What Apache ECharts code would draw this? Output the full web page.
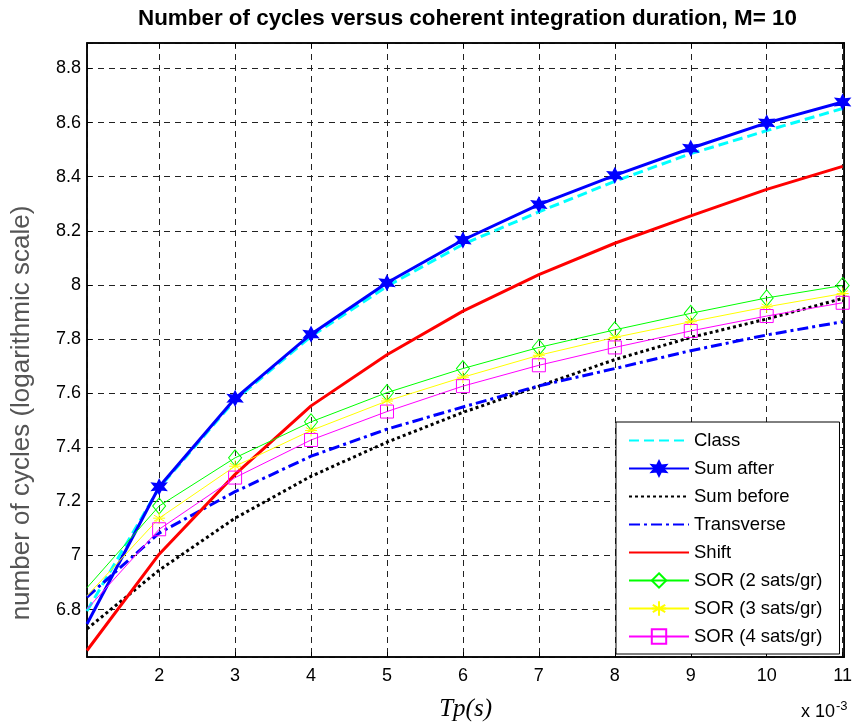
<!DOCTYPE html>
<html>
<head>
<meta charset="utf-8">
<script src="https://cdn.jsdelivr.net/npm/echarts@6/dist/echarts.min.js"></script>
<style>
  html, body { margin: 0; padding: 0; background: #fff; }
  #grafico { width: 855px; height: 727px; }
</style>
</head>
<body>
<div id="grafico"></div>
<script>
// Tp in units of 1e-3 s
var tp = [1.05, 2, 3, 4, 5, 6, 7, 8, 9, 10, 11];
var classe = [6.795, 7.25, 7.575, 7.81, 7.995, 8.15, 8.27, 8.383, 8.485, 8.57, 8.652];
var sumAfter = [6.747, 7.254, 7.581, 7.818, 8.008, 8.166, 8.297, 8.405, 8.505, 8.599, 8.676];
var sumBefore = [6.729, 6.946, 7.138, 7.293, 7.419, 7.529, 7.626, 7.724, 7.806, 7.874, 7.95];
var transverse = [6.846, 7.083, 7.236, 7.367, 7.467, 7.549, 7.627, 7.691, 7.757, 7.815, 7.864];
var shift = [6.649, 7.005, 7.30, 7.553, 7.742, 7.903, 8.038, 8.154, 8.255, 8.353, 8.438];
var sor2 = [6.881, 7.183, 7.361, 7.494, 7.602, 7.691, 7.769, 7.834, 7.895, 7.952, 7.998];
var sor3 = [6.851, 7.138, 7.33, 7.462, 7.571, 7.659, 7.74, 7.806, 7.864, 7.919, 7.968];
var sor4 = [6.802, 7.097, 7.288, 7.427, 7.532, 7.626, 7.703, 7.769, 7.83, 7.885, 7.934];

var fonte = 'Liberation Sans, Arial, sans-serif';
var asterisco = 'path://M0,-10L0,10M-8.66,-5L8.66,5M-8.66,5L8.66,-5M-10,0L10,0';
var estrela = 'path://M0,-10L2.5,-4.3L8.7,-5L5,0L8.7,5L2.5,4.3L0,10L-2.5,4.3L-8.7,5L-5,0L-8.7,-5L-2.5,-4.3Z';

// first point sits on the left edge, without marker
function pontos(vals) {
  return tp.map(function (x, i) {
    if (i === 0) return { value: [x, vals[i]], symbol: 'none' };
    return [x, vals[i]];
  });
}

var chartDom = document.getElementById('grafico');
var myChart = echarts.init(chartDom);
var option;

var eixoX = {
  type: 'value',
  min: 1.05,
  max: 11.02,
  minInterval: 1,
  maxInterval: 1
};
var eixoY = {
  type: 'value',
  min: 6.625,
  max: 8.894,
  minInterval: 0.2,
  maxInterval: 0.2
};
var semMarca = { opacity: 0 };

option = {
  animation: false,
  backgroundColor: '#fff',
  textStyle: { fontFamily: fonte },
  title: {
    text: 'Number of cycles versus coherent integration duration, M= 10',
    left: 133,
    top: 3,
    textStyle: { fontSize: 22.4, fontWeight: 'bold', color: '#000', fontFamily: fonte }
  },
  grid: {
    left: 87,
    right: 5,
    top: 43,
    bottom: 65,
    show: true,
    borderColor: '#000',
    borderWidth: 1.5
  },
  legend: {
    orient: 'vertical',
    left: 616,
    top: 422,
    backgroundColor: '#fff',
    borderColor: '#000',
    borderWidth: 1,
    borderRadius: 0,
    padding: [9, 17, 8, 12],
    itemWidth: 60,
    itemHeight: 18,
    itemGap: 9,
    textStyle: { fontSize: 18.5, color: '#000', fontFamily: fonte },
    data: [
      { name: 'Class', itemStyle: semMarca },
      'Sum after',
      { name: 'Sum before', itemStyle: semMarca },
      { name: 'Transverse', itemStyle: semMarca },
      { name: 'Shift', itemStyle: semMarca },
      'SOR (2 sats/gr)', 'SOR (3 sats/gr)', 'SOR (4 sats/gr)'
    ]
  },
  graphic: [
    {
      type: 'text',
      x: 22,
      y: 413,
      rotation: Math.PI / 2,
      style: {
        text: 'number of cycles (logarithmic scale)',
        fontSize: 26,
        fontFamily: fonte,
        fill: '#555',
        align: 'center',
        verticalAlign: 'middle'
      }
    },
    {
      type: 'text',
      left: 801,
      top: 700,
      style: {
        text: 'x 10{s|-3}',
        fontSize: 18,
        fontFamily: fonte,
        fill: '#000',
        rich: { s: { fontSize: 13, verticalAlign: 'top', padding: [0, 0, 12, 1] } }
      }
    }
  ],
  xAxis: [
    Object.assign({}, eixoX, {
      name: 'Tp(s)',
      nameLocation: 'middle',
      nameGap: 40,
      nameTextStyle: { fontSize: 25, fontStyle: 'italic', fontFamily: 'Liberation Serif, Times New Roman, serif', color: '#000' },
      axisLine: { show: true, onZero: false, lineStyle: { color: '#000', width: 1.5 } },
      axisTick: { show: true, inside: true, length: 5, lineStyle: { color: '#000' } },
      axisLabel: { fontSize: 18, color: '#000', margin: 10, showMinLabel: false, showMaxLabel: false,
        formatter: function (v) { return Math.abs(v - Math.round(v)) < 1e-6 ? String(Math.round(v)) : ''; } },
      splitLine: { show: true, lineStyle: { color: '#222', type: [6, 5], width: 1 } }
    }),
    Object.assign({}, eixoX, {
      position: 'top',
      axisLine: { show: true, onZero: false, lineStyle: { color: '#000', width: 1.5 } },
      axisTick: { show: true, inside: true, length: 5, lineStyle: { color: '#000' } },
      axisLabel: { show: false },
      splitLine: { show: false }
    })
  ],
  yAxis: [
    Object.assign({}, eixoY, {
      axisLine: { show: true, onZero: false, lineStyle: { color: '#000', width: 1.5 } },
      axisTick: { show: true, inside: true, length: 5, lineStyle: { color: '#000' } },
      axisLabel: { fontSize: 18, color: '#000', margin: 6, showMinLabel: false, showMaxLabel: false },
      splitLine: { show: true, lineStyle: { color: '#222', type: [6, 5], width: 1 } }
    }),
    Object.assign({}, eixoY, {
      position: 'right',
      axisLine: { show: true, onZero: false, lineStyle: { color: '#000', width: 1.5 } },
      axisTick: { show: true, inside: true, length: 5, lineStyle: { color: '#000' } },
      axisLabel: { show: false },
      splitLine: { show: false }
    })
  ],
  series: [
    {
      name: 'Class',
      type: 'line',
      data: pontos(classe),
      symbol: 'none',
      lineStyle: { color: '#00ffff', width: 3, type: [10, 5] },
      itemStyle: { color: '#00ffff' }
    },
    {
      name: 'Sum after',
      type: 'line',
      data: pontos(sumAfter),
      symbol: estrela,
      symbolSize: 14,
      lineStyle: { color: '#0000ff', width: 3 },
      itemStyle: { color: '#0000ff', borderColor: '#0000ff', borderWidth: 1.5 }
    },
    {
      name: 'Sum before',
      type: 'line',
      data: pontos(sumBefore),
      symbol: 'none',
      lineStyle: { color: '#000', width: 3, type: [3, 3] },
      itemStyle: { color: '#000' }
    },
    {
      name: 'Transverse',
      type: 'line',
      data: pontos(transverse),
      symbol: 'none',
      lineStyle: { color: '#0000ff', width: 3, type: [11, 4, 3, 4] },
      itemStyle: { color: '#0000ff' }
    },
    {
      name: 'Shift',
      type: 'line',
      data: pontos(shift),
      symbol: 'none',
      lineStyle: { color: '#ff0000', width: 3 },
      itemStyle: { color: '#ff0000' }
    },
    {
      name: 'SOR (2 sats/gr)',
      type: 'line',
      data: pontos(sor2),
      symbol: 'diamond',
      symbolSize: [13, 16],
      lineStyle: { color: '#00ff00', width: 1 },
      itemStyle: { color: 'rgba(0,0,0,0)', borderColor: '#00ff00', borderWidth: 1 }
    },
    {
      name: 'SOR (3 sats/gr)',
      type: 'line',
      data: pontos(sor3),
      symbol: asterisco,
      symbolSize: 12,
      lineStyle: { color: '#ffff00', width: 1 },
      itemStyle: { color: 'rgba(0,0,0,0)', borderColor: '#ffff00', borderWidth: 1 }
    },
    {
      name: 'SOR (4 sats/gr)',
      type: 'line',
      data: pontos(sor4),
      symbol: 'rect',
      symbolSize: 13,
      lineStyle: { color: '#ff00ff', width: 1 },
      itemStyle: { color: 'rgba(0,0,0,0)', borderColor: '#ff00ff', borderWidth: 1 }
    }
  ]
};

option && myChart.setOption(option);
</script>
</body>
</html>
